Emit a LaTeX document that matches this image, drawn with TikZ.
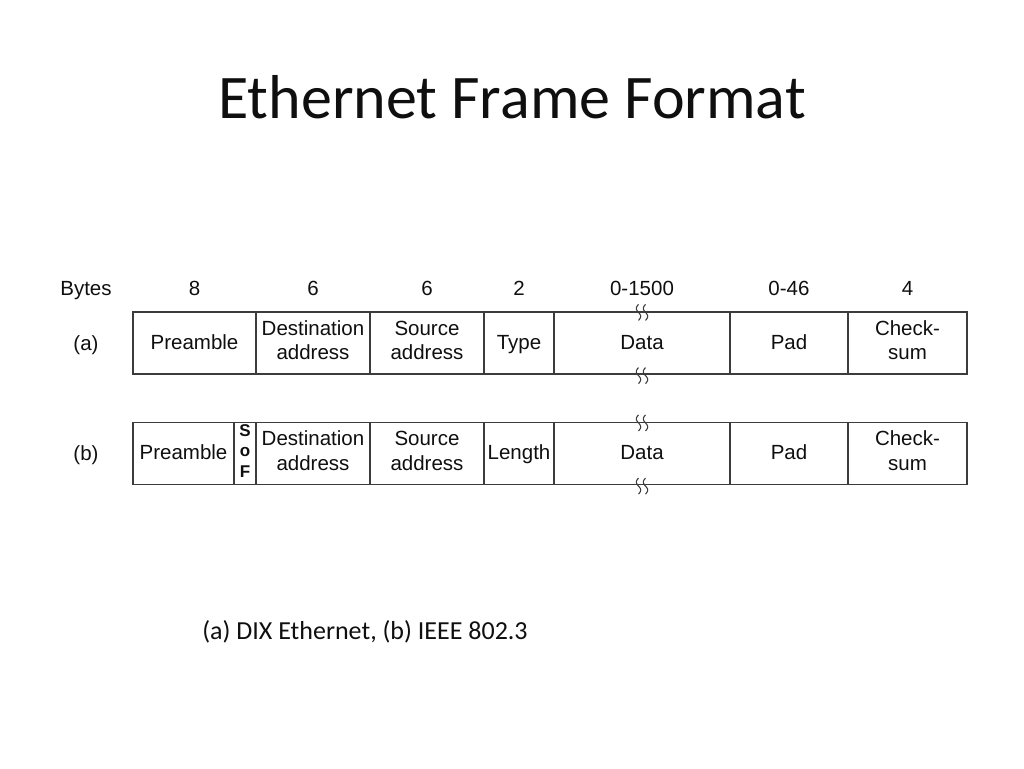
\documentclass[tikz,border=0pt]{standalone}
\usepackage{fontspec}
\setmainfont{Carlito}
\newfontfamily\arialfont{Liberation Sans}
\usetikzlibrary{positioning}
\definecolor{framegray}{RGB}{60,60,60}
\definecolor{textblack}{RGB}{15,15,15}
\newcommand{\cellstrut}{\rule[-5.75pt]{0pt}{24.5pt}}
\newcommand{\wavemark}[1]{%
  \foreach \dx in {-3.5,3.5}
    \draw[framegray, line width=1.1pt, shift={(#1)}]
      plot[domain=-9:7, samples=25, smooth] ({\dx-2.2*sin(22.5*(\x+1))}, \x);
}

\begin{document}
\begin{tikzpicture}[
    x=1pt, y=1pt,
    cell/.style={
        rectangle, draw=framegray, line width=1.2pt,
        minimum height=62pt, inner sep=0pt, align=center,
        text=textblack, font=\arialfont\fontsize{20.5}{24.5}\selectfont,
        execute at begin node=\cellstrut, execute at end node=\cellstrut
    },
    hdr/.style={font=\arialfont\fontsize{20.5}{24}\selectfont, text=textblack,
        inner sep=0pt, text height=14.7pt, text depth=0pt}
]
\useasboundingbox (0,0) rectangle (1024,768);

% Title
\node[font=\fontsize{62}{70}\selectfont, text=textblack] (title) at (512,671) {Ethernet Frame Format};

% Frame (a): DIX
\node[cell, minimum width=123pt] (preA)  at (194.5,425) {Preamble};
\node[cell, minimum width=114pt] (dstA)  at (313,425)   {Destination\\address};
\node[cell, minimum width=114pt] (srcA)  at (427,425)   {Source\\address};
\node[cell, minimum width=70pt]  (typeA) at (519,425)   {Type};
\node[cell, minimum width=176pt] (dataA) at (642,425)   {Data};
\node[cell, minimum width=118pt] (padA)  at (789,425)   {Pad};
\node[cell, minimum width=119pt] (chkA)  at (907.5,425) {Check-\\sum};

% Frame (b): IEEE 802.3
\node[cell, minimum width=101pt] (preB)  at (183.5,314.5) {Preamble};
\node[cell, minimum width=22pt, font=\arialfont\bfseries\fontsize{17}{20.5}\selectfont] (sofB) at (245,314.5) {S\\o\\F};
\node[cell, minimum width=114pt] (dstB)  at (313,314.5)   {Destination\\address};
\node[cell, minimum width=114pt] (srcB)  at (427,314.5)   {Source\\address};
\node[cell, minimum width=70pt]  (lenB)  at (519,314.5)   {Length};
\node[cell, minimum width=176pt] (dataB) at (642,314.5)   {Data};
\node[cell, minimum width=118pt] (padB)  at (789,314.5)   {Pad};
\node[cell, minimum width=119pt] (chkB)  at (907.5,314.5) {Check-\\sum};

% Byte counts
\node[hdr] (bytes) at (86,480) {Bytes};
\node[hdr] (nPre)  at (preA |- bytes)  {8};
\node[hdr] (nDst)  at (dstA |- bytes)  {6};
\node[hdr] (nSrc)  at (srcA |- bytes)  {6};
\node[hdr] (nType) at (typeA |- bytes) {2};
\node[hdr] (nData) at (dataA |- bytes) {0-1500};
\node[hdr] (nPad)  at (padA |- bytes)  {0-46};
\node[hdr] (nChk)  at (chkA |- bytes)  {4};

% Row labels
\node[hdr] (labA) at (bytes |- preA) {(a)};
\node[hdr] (labB) at (bytes |- preB) {(b)};

% Breaks in the data field
\wavemark{dataA.north}
\wavemark{dataA.south}
\wavemark{dataB.north}
\wavemark{dataB.south}

% Caption
\node[font=\fontsize{26}{30}\selectfont, text=textblack] (caption) at (365,136) {(a) DIX Ethernet, (b) IEEE 802.3};

\end{tikzpicture}
\end{document}
